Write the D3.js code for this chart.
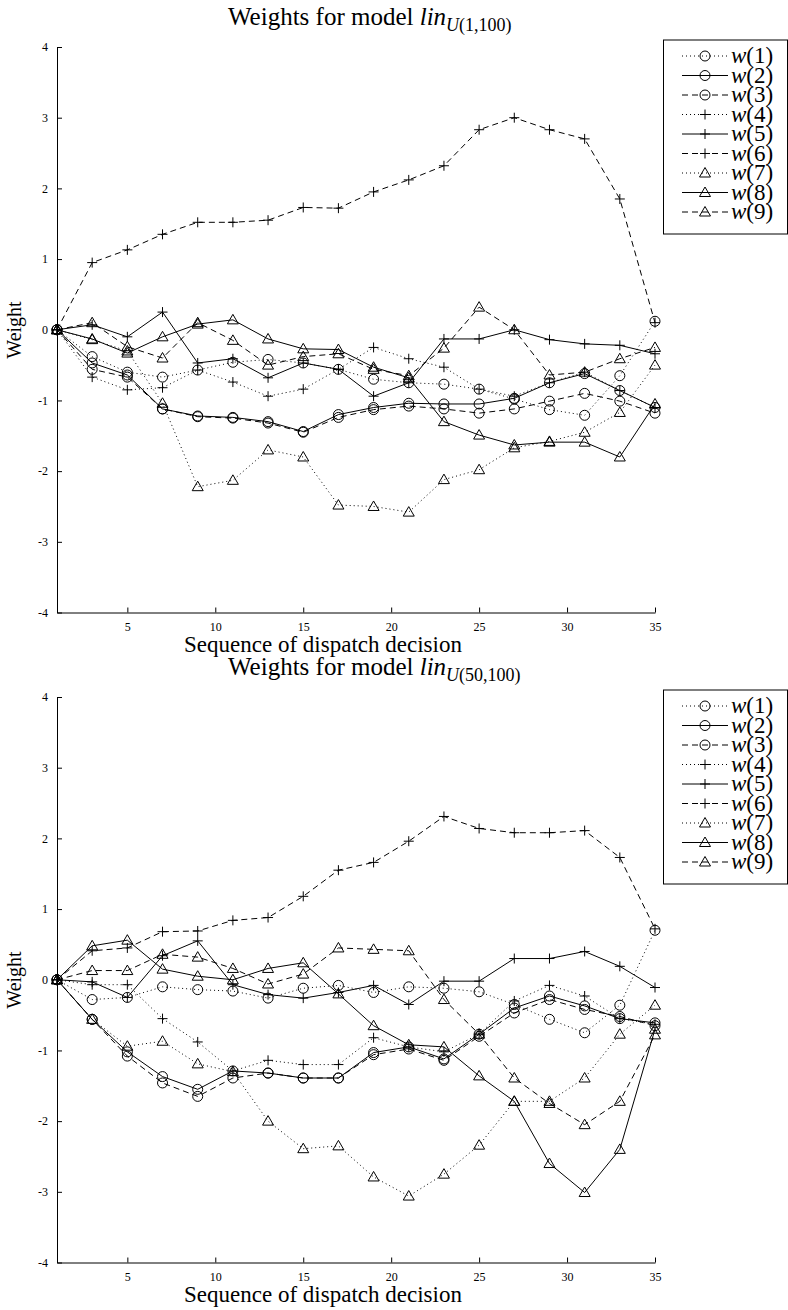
<!DOCTYPE html>
<html>
<head>
<meta charset="utf-8">
<script src="https://cdn.jsdelivr.net/npm/d3@7"></script>
<style>
  body { margin: 0; background: #fff; }
  text { font-family: "Liberation Serif", "DejaVu Serif", serif; fill: #000; }
</style>
</head>
<body>
<svg id="chart" width="788" height="1310"></svg>
<script>
// Data
const steps = [1, 3, 5, 7, 9, 11, 13, 15, 17, 19, 21, 23, 25, 27, 29, 31, 33, 35];
const xTicks = [5, 10, 15, 20, 25, 30, 35];
const yTicks = [-4, -3, -2, -1, 0, 1, 2, 3, 4];
const weightIds = [1, 2, 3, 4, 5, 6, 7, 8, 9];

// model lin_U(1,100)
const a_w1 = [0, -0.38, -0.60, -0.67, -0.57, -0.46, -0.42, -0.47, -0.56, -0.70, -0.75, -0.77, -0.84, -0.98, -1.13, -1.21, -0.65, 0.12];
const a_w2 = [0, -0.47, -0.64, -1.12, -1.22, -1.24, -1.30, -1.44, -1.20, -1.10, -1.04, -1.05, -1.05, -0.97, -0.75, -0.62, -0.86, -1.10];
const a_w3 = [0, -0.56, -0.67, -1.12, -1.23, -1.25, -1.32, -1.45, -1.24, -1.13, -1.08, -1.12, -1.18, -1.12, -1.01, -0.90, -1.01, -1.18];
const a_w4 = [0, -0.67, -0.85, -0.82, -0.57, -0.74, -0.94, -0.84, -0.56, -0.25, -0.41, -0.53, -0.84, -0.94, -0.75, -0.60, -0.86, -1.10];
const a_w5 = [0, 0.07, -0.10, 0.25, -0.47, -0.41, -0.68, -0.47, -0.56, -0.94, -0.75, -0.13, -0.13, 0.00, -0.14, -0.20, -0.22, -0.34];
const a_w6 = [0, 0.95, 1.13, 1.35, 1.52, 1.52, 1.55, 1.73, 1.72, 1.95, 2.12, 2.32, 2.83, 3.00, 2.83, 2.70, 1.85, 0.10];
const a_w7 = [0, -0.14, -0.30, -1.04, -2.22, -2.13, -1.70, -1.80, -2.48, -2.50, -2.58, -2.12, -1.98, -1.67, -1.58, -1.45, -1.17, -0.50];
const a_w8 = [0, -0.13, -0.33, -0.10, 0.08, 0.14, -0.13, -0.27, -0.28, -0.53, -0.68, -1.30, -1.49, -1.63, -1.59, -1.59, -1.80, -1.05];
const a_w9 = [0, 0.10, -0.24, -0.40, 0.10, -0.15, -0.50, -0.38, -0.34, -0.56, -0.65, -0.26, 0.32, 0.00, -0.64, -0.60, -0.41, -0.25];

// model lin_U(50,100)
const b_w1 = [0, -0.28, -0.25, -0.10, -0.14, -0.16, -0.26, -0.12, -0.08, -0.18, -0.10, -0.12, -0.17, -0.35, -0.56, -0.75, -0.36, 0.70];
const b_w2 = [0, -0.56, -1.02, -1.37, -1.55, -1.29, -1.32, -1.39, -1.39, -1.03, -0.95, -1.12, -0.77, -0.40, -0.23, -0.37, -0.55, -0.61];
const b_w3 = [0, -0.56, -1.08, -1.46, -1.65, -1.39, -1.32, -1.39, -1.39, -1.06, -0.98, -1.14, -0.80, -0.47, -0.28, -0.42, -0.52, -0.65];
const b_w4 = [0, -0.07, -0.07, -0.55, -0.88, -1.29, -1.14, -1.20, -1.20, -0.82, -0.95, -1.02, -0.77, -0.30, -0.08, -0.23, -0.55, -0.63];
const b_w5 = [0, -0.03, -0.25, 0.34, 0.55, -0.07, -0.21, -0.26, -0.18, -0.08, -0.35, -0.02, -0.02, 0.30, 0.30, 0.40, 0.19, -0.11];
const b_w6 = [0, 0.41, 0.45, 0.68, 0.69, 0.84, 0.88, 1.18, 1.55, 1.66, 1.96, 2.31, 2.14, 2.08, 2.08, 2.11, 1.73, 0.72];
const b_w7 = [0, -0.56, -0.94, -0.87, -1.19, -1.30, -2.00, -2.39, -2.35, -2.79, -3.06, -2.75, -2.34, -1.72, -1.72, -1.39, -0.77, -0.36];
const b_w8 = [0, 0.48, 0.56, 0.15, 0.05, 0.00, 0.16, 0.24, -0.20, -0.65, -0.92, -0.95, -1.36, -1.72, -2.60, -3.01, -2.40, -0.70];
const b_w9 = [0, 0.13, 0.13, 0.36, 0.32, 0.16, -0.06, 0.08, 0.45, 0.43, 0.41, -0.28, -0.77, -1.39, -1.75, -2.05, -1.72, -0.78];

// line style / marker per weight (matlab-ish)
const DASH = { dotted: "1,3", solid: null, dashed: "6,4" };
const lineKinds = ["dotted", "solid", "dashed"];
const markerKinds = ["circle", "plus", "triangle"];

const svg = d3.select("#chart");

function drawMarker(g, kind, x, y) {
    if (kind === "circle") {
        g.append("circle").attr("cx", x).attr("cy", y).attr("r", 5)
            .attr("fill", "none").attr("stroke", "#000").attr("stroke-width", 1);
    } else if (kind === "plus") {
        g.append("path").attr("d", `M${x - 5},${y}H${x + 5}M${x},${y - 5}V${y + 5}`)
            .attr("fill", "none").attr("stroke", "#000").attr("stroke-width", 1);
    } else {
        g.append("path").attr("d", `M${x},${y - 5.5}L${x + 5.5},${y + 4}L${x - 5.5},${y + 4}Z`)
            .attr("fill", "none").attr("stroke", "#000").attr("stroke-width", 1);
    }
}

function drawPanel(top, subText, series) {
    const left = 57, right = 655, height = 565.5;
    const x = d3.scaleLinear().domain([1, 35]).range([left, right]);
    const y = d3.scaleLinear().domain([-4, 4]).range([top + height, top]);

    const g = svg.append("g");

    // axes (plain hyphen minus like the original)
    const yAxis = d3.axisLeft(y).tickValues(yTicks).tickFormat(d => String(d))
        .tickSizeInner(-5).tickSizeOuter(0).tickPadding(9);
    const xAxis = d3.axisBottom(x).tickValues(xTicks).tickFormat(d => String(d))
        .tickSizeInner(-5).tickSizeOuter(0).tickPadding(10);

    g.append("g").attr("transform", `translate(${left},0)`).call(yAxis)
        .call(a => a.selectAll("text").style("font-size", "12px").attr("font-family", null));
    g.append("g").attr("transform", `translate(0,${top + height})`).call(xAxis)
        .call(a => a.selectAll("text").style("font-size", "12px").attr("font-family", null));
    g.selectAll(".domain, .tick line").attr("stroke", "#000");

    // series
    const line = d3.line().x((d, i) => x(steps[i])).y(d => y(d));
    series.forEach((vals, s) => {
        const lk = lineKinds[s % 3];
        const mk = markerKinds[Math.floor(s / 3)];
        g.append("path").datum(vals).attr("d", line)
            .attr("fill", "none").attr("stroke", "#000").attr("stroke-width", 1)
            .attr("stroke-dasharray", DASH[lk]);
        vals.forEach((v, i) => drawMarker(g, mk, x(steps[i]), y(v)));
    });

    // title
    const t = g.append("text").attr("x", 228).attr("y", top - 22).style("font-size", "25px");
    t.append("tspan").text("Weights for model ");
    t.append("tspan").attr("font-style", "italic").text("lin");
    t.append("tspan").attr("font-style", "italic").attr("dy", 6).style("font-size", "18px").text("U");
    t.append("tspan").style("font-size", "18px").text(subText);

    // axis labels
    g.append("text").attr("x", 323).attr("y", top + height + 39)
        .attr("text-anchor", "middle").style("font-size", "23px")
        .text("Sequence of dispatch decision");
    g.append("text").attr("transform", `translate(21,${top + 283}) rotate(-90)`)
        .attr("text-anchor", "middle").style("font-size", "20px").text("Weight");

    // legend
    const lx = 663.5, ly = top - 7;
    g.append("rect").attr("x", lx).attr("y", ly).attr("width", 124).attr("height", 194)
        .attr("fill", "#fff").attr("stroke", "#000").attr("stroke-width", 1);
    weightIds.forEach((id, s) => {
        const yy = ly + 16 + s * 19.5;
        const lk = lineKinds[s % 3];
        const mk = markerKinds[Math.floor(s / 3)];
        g.append("line").attr("x1", 682).attr("x2", 728).attr("y1", yy).attr("y2", yy)
            .attr("stroke", "#000").attr("stroke-width", 1).attr("stroke-dasharray", DASH[lk]);
        drawMarker(g, mk, 705, yy);
        const lt = g.append("text").attr("x", 731).attr("y", yy + 7).style("font-size", "23px");
        lt.append("tspan").attr("font-style", "italic").text("w");
        lt.append("tspan").text(`(${id})`);
    });
}

drawPanel(47, "(1,100)", [a_w1, a_w2, a_w3, a_w4, a_w5, a_w6, a_w7, a_w8, a_w9]);
drawPanel(697, "(50,100)", [b_w1, b_w2, b_w3, b_w4, b_w5, b_w6, b_w7, b_w8, b_w9]);
</script>
</body>
</html>
